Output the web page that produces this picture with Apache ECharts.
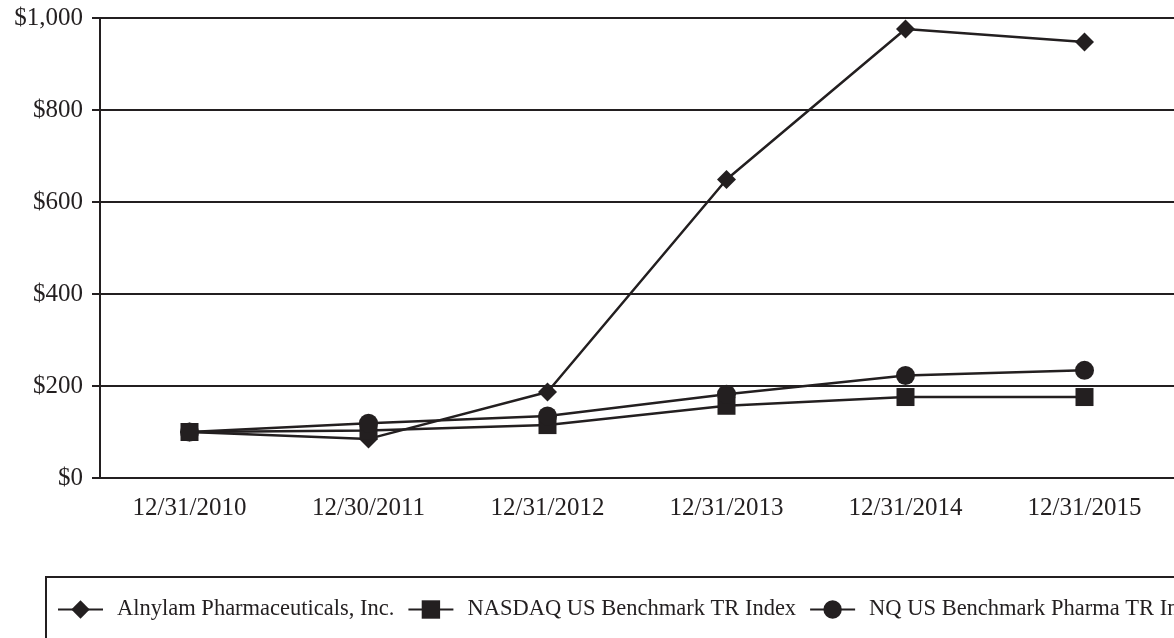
<!DOCTYPE html>
<html>
<head>
<meta charset="utf-8">
<script src="https://cdn.jsdelivr.net/npm/echarts@6/dist/echarts.min.js"></script>
<style>
    html, body { margin: 0; padding: 0; background: #fff; }
    #chart { width: 1174px; height: 638px; }
</style>
</head>
<body>
<div id="chart"></div>
<script>
    const categories = ["12/31/2010", "12/30/2011", "12/31/2012", "12/31/2013", "12/31/2014", "12/31/2015"]
    const alnylam = [100, 85, 187, 649, 976, 948]
    const nasdaq = [100, 103, 115, 157, 176, 176]
    const pharma = [100, 119, 135, 182, 223, 234]
    const seriesNames = ["Alnylam Pharmaceuticals, Inc.", "NASDAQ US Benchmark TR Index", "NQ US Benchmark Pharma TR Index"]

    const ink = "#231f20"
    const serif = "Liberation Serif"

    const chart = echarts.init(document.getElementById("chart"))

    function lineSeries(name, data, symbol, size) {
        return {
            name: name,
            type: "line",
            data: data,
            symbol: symbol,
            symbolSize: size,
            color: ink,
            lineStyle: { color: ink, width: 2.5 },
            itemStyle: { color: ink },
            emphasis: { disabled: true },
        }
    }

    const options = {
        animation: false,
        grid: {
            left: 100,
            right: 0,
            top: 18,
            bottom: 160, // 638 - 478
        },
        legend: {
            left: 46,
            top: 577,
            width: 1400,
            padding: [21, 0, 40, 11],
            itemWidth: 45,
            itemHeight: 23,
            itemGap: 13,
            selectedMode: false,
            borderColor: ink,
            borderWidth: 2,
            data: seriesNames,
            textStyle: {
                fontFamily: serif,
                fontSize: 22.5,
                color: ink,
                padding: [0, 0, 0, 9],
            },
        },
        xAxis: {
            type: "category",
            data: categories,
            boundaryGap: true,
            axisLine: { lineStyle: { color: ink, width: 2 } },
            axisTick: { alignWithLabel: true, length: 10, lineStyle: { color: ink, width: 2 } },
            axisLabel: { fontFamily: serif, fontSize: 25, color: ink, margin: 18 },
        },
        yAxis: {
            type: "value",
            min: 0,
            max: 1000,
            interval: 200,
            axisLine: { show: true, lineStyle: { color: ink, width: 2 } },
            axisTick: { show: true, length: 8, lineStyle: { color: ink, width: 2 } },
            splitLine: { lineStyle: { color: ink, width: 2 } },
            axisLabel: {
                fontFamily: serif,
                fontSize: 25,
                color: ink,
                margin: 17,
                formatter: v => "$" + v.toLocaleString("en-US"),
            },
        },
        series: [
            lineSeries(seriesNames[0], alnylam, "diamond", 19),
            lineSeries(seriesNames[1], nasdaq, "rect", 18),
            lineSeries(seriesNames[2], pharma, "circle", 19),
        ],
    }

    chart.setOption(options)
</script>
</body>
</html>
